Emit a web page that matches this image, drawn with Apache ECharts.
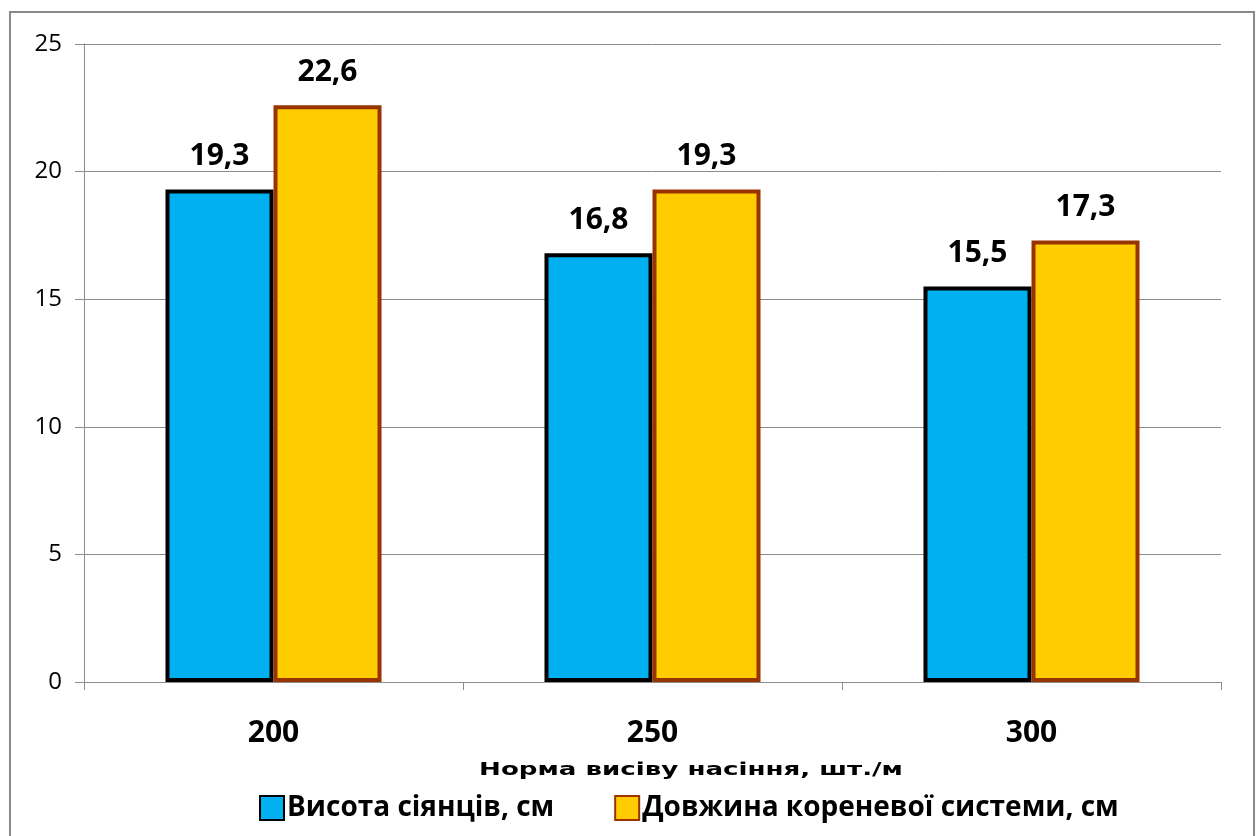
<!DOCTYPE html>
<html>
<head>
<meta charset="utf-8">
<script src="https://cdn.jsdelivr.net/npm/echarts@6/dist/echarts.min.js"></script>
<style>
  html, body { margin: 0; padding: 0; background: #fff; }
  #chart { width: 1260px; height: 836px; }
</style>
</head>
<body>
<div id="chart"></div>
<script>
const categories = ['200', '250', '300'];
const seedlingHeight = [19.3, 16.8, 15.5];
const rootLength = [22.6, 19.3, 17.3];
const seriesNames = ['Висота сіянців, см', 'Довжина кореневої системи, см'];
const axisName = 'Норма висіву насіння, шт./м';

const FONT = '"Open Sans", "Noto Sans", sans-serif';
const chart = echarts.init(document.getElementById('chart'));

const labelOpt = {
    show: true,
    position: 'top',
    distance: 18,
    fontFamily: FONT,
    fontWeight: 'bold',
    fontSize: 30,
    color: '#000',
    formatter: p => String(p.value).replace('.', ',')
};

chart.setOption({
    animation: false,
    textStyle: { fontFamily: FONT },
    graphic: [{
        type: 'rect',
        shape: { x: 10, y: 12, width: 1244, height: 830 },
        style: { fill: 'none', stroke: '#8a8a8a', lineWidth: 2 },
        silent: true
    }, {
        // stretched axis title, as in the source picture
        type: 'text',
        x: 691,
        y: 770,
        scaleX: 1.45,
        style: {
            text: axisName,
            fontFamily: '"DejaVu Sans", sans-serif',
            fontWeight: 'bold',
            fontSize: 18,
            fill: '#000',
            align: 'center',
            verticalAlign: 'middle'
        },
        silent: true
    }],
    grid: { left: 84, right: 39, top: 44, bottom: 154 },
    legend: {
        top: 789,
        left: 254,
        itemWidth: 24,
        itemHeight: 24,
        itemGap: 60,
        icon: 'rect',
        textStyle: { fontFamily: FONT, fontWeight: 'bold', fontSize: 28, color: '#000', padding: [0, 0, 0, -2] },
        data: seriesNames
    },
    xAxis: {
        type: 'category',
        data: categories,
        axisLine: { lineStyle: { color: '#8c8c8c', width: 1 } },
        axisTick: { show: true, length: 8, lineStyle: { color: '#8c8c8c' } },
        axisLabel: {
            margin: 36,
            fontFamily: FONT,
            fontWeight: 'bold',
            fontSize: 30,
            color: '#000'
        }
    },
    yAxis: {
        type: 'value',
        min: 0,
        max: 25,
        interval: 5,
        axisLine: { show: true, lineStyle: { color: '#8c8c8c', width: 1 } },
        axisTick: { show: true, length: 9, lineStyle: { color: '#8c8c8c' } },
        axisLabel: { margin: 22, fontFamily: FONT, fontSize: 24, color: '#000' },
        splitLine: { lineStyle: { color: '#8c8c8c', width: 1 } }
    },
    series: [{
        name: seriesNames[0],
        type: 'bar',
        data: seedlingHeight,
        barGap: '0%',
        barCategoryGap: '43%',
        itemStyle: { color: '#00b0f0', borderColor: '#000', borderWidth: 4 },
        label: labelOpt
    }, {
        name: seriesNames[1],
        type: 'bar',
        data: rootLength,
        itemStyle: { color: '#ffcc00', borderColor: '#993300', borderWidth: 4 },
        label: labelOpt
    }]
});
</script>
</body>
</html>
